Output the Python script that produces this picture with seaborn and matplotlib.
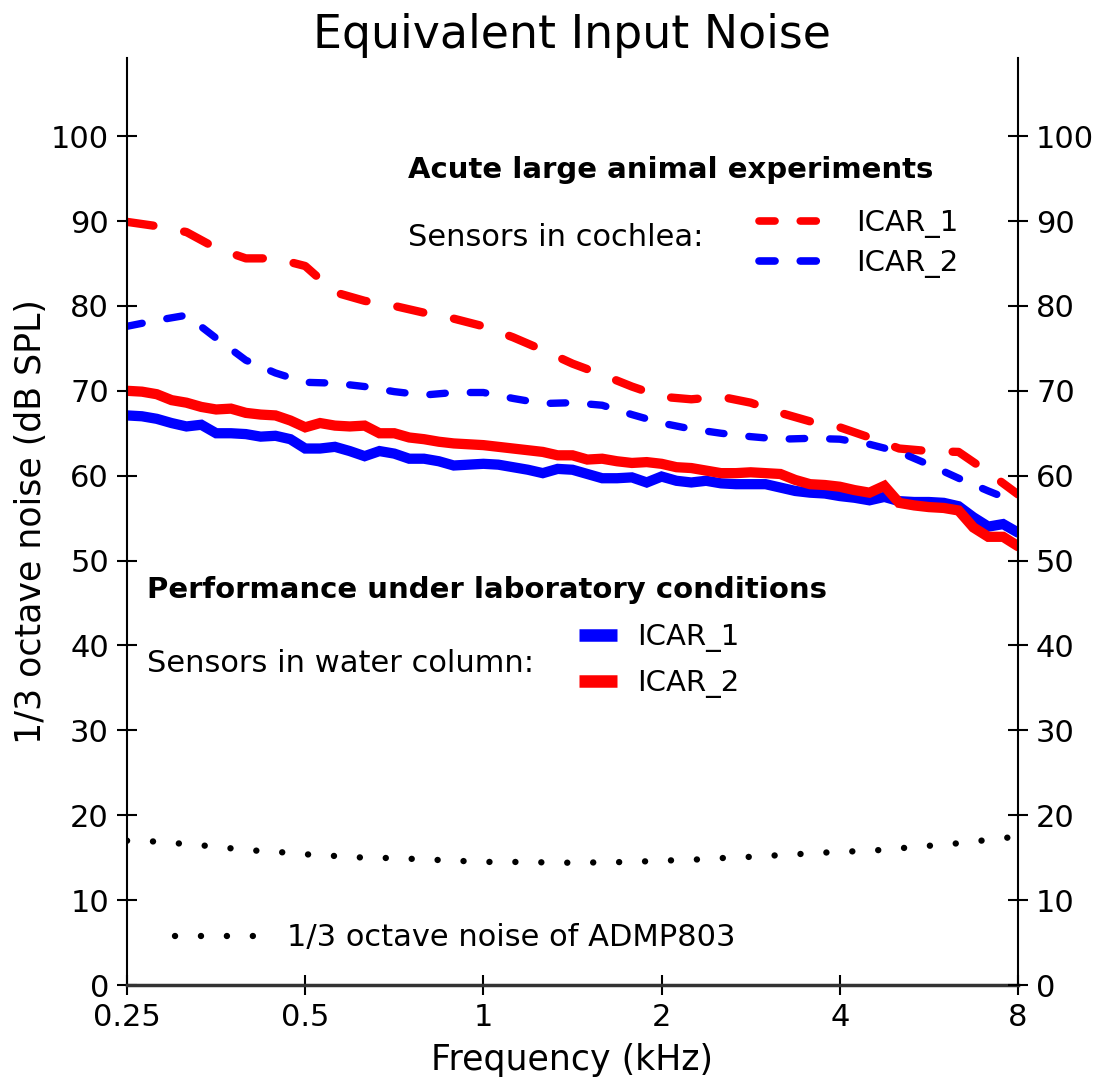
import numpy as np
import pandas as pd
import matplotlib
matplotlib.use("Agg")
import matplotlib.pyplot as plt
from matplotlib.lines import Line2D
import seaborn as sns

# 1/12 octave frequency grid (kHz)
freq = [0.25, 0.2649, 0.2806, 0.2973, 0.315, 0.3337, 0.3536, 0.3746, 0.3969, 0.4204,
        0.4454, 0.4719, 0.5, 0.5297, 0.5612, 0.5946, 0.63, 0.6674, 0.7071, 0.7492,
        0.7937, 0.8409, 0.8909, 0.9439, 1.0, 1.0595, 1.1225, 1.1892, 1.2599, 1.3348,
        1.4142, 1.4983, 1.5874, 1.6818, 1.7818, 1.8877, 2.0, 2.1189, 2.2449, 2.3784,
        2.5198, 2.6697, 2.8284, 2.9966, 3.1748, 3.3636, 3.5636, 3.7755, 4.0, 4.2379,
        4.4898, 4.7568, 5.0397, 5.3394, 5.6569, 5.9932, 6.3496, 6.7272, 7.1272, 7.551, 8.0]
freq_sixth = freq[::2]

# sensors in water column (1/12 octave)
water_icar1 = [67.1, 67.0, 66.7, 66.2, 65.8, 66.0, 65.0, 65.0, 64.9, 64.6,
               64.7, 64.3, 63.2, 63.2, 63.4, 62.9, 62.3, 62.9, 62.6, 62.0,
               62.0, 61.7, 61.2, 61.3, 61.4, 61.3, 61.0, 60.7, 60.3, 60.8,
               60.7, 60.2, 59.7, 59.7, 59.8, 59.2, 59.9, 59.4, 59.2, 59.4,
               59.1, 59.0, 59.0, 59.0, 58.6, 58.2, 58.0, 57.9, 57.6, 57.4,
               57.1, 57.5, 57.0, 56.9, 56.9, 56.8, 56.4, 55.1, 54.0, 54.3, 53.3]
water_icar2 = [70.0, 69.9, 69.6, 68.9, 68.6, 68.1, 67.8, 67.9, 67.4, 67.2,
               67.1, 66.5, 65.7, 66.2, 65.9, 65.8, 65.9, 65.0, 65.0, 64.5,
               64.3, 64.0, 63.8, 63.7, 63.6, 63.4, 63.2, 63.0, 62.8, 62.4,
               62.4, 61.9, 62.0, 61.7, 61.5, 61.6, 61.4, 61.0, 60.9, 60.6,
               60.3, 60.3, 60.4, 60.3, 60.2, 59.5, 59.0, 58.9, 58.7, 58.3,
               58.0, 58.8, 56.8, 56.5, 56.3, 56.2, 55.9, 53.9, 52.8, 52.8, 51.7]

# sensors in cochlea (1/6 octave)
cochlea_icar1 = [89.9, 89.4, 88.7, 86.8, 85.6, 85.6, 84.7, 81.6, 80.6, 80.0,
                 79.2, 78.5, 77.6, 76.3, 74.8, 73.2, 71.9, 70.5, 69.3, 69.0,
                 69.3, 68.6, 67.4, 66.4, 65.7, 64.5, 63.2, 62.9, 62.8, 60.4, 57.8]
cochlea_icar2 = [77.6, 78.3, 78.9, 76.2, 73.6, 72.1, 71.0, 70.9, 70.5, 69.9,
                 69.5, 69.8, 69.8, 69.1, 68.5, 68.6, 68.3, 67.2, 66.2, 65.5,
                 65.0, 64.6, 64.3, 64.4, 64.3, 63.7, 62.8, 61.3, 59.7, 58.2, 56.8]

# ADMP803 1/3 octave noise
admp803 = [17.0, 16.9, 16.6, 16.3, 15.9, 15.7, 15.4, 15.2, 15.0, 14.95,
           14.8, 14.65, 14.5, 14.5, 14.45, 14.4, 14.45, 14.5, 14.65, 14.75,
           14.95, 15.1, 15.3, 15.5, 15.7, 15.8, 16.1, 16.4, 16.7, 17.1, 17.5]

xticks = [0.25, 0.5, 1, 2, 4, 8]
xtick_labels = ["0.25", "0.5", "1", "2", "4", "8"]
yticks = [0, 10, 20, 30, 40, 50, 60, 70, 80, 90, 100]

RED = "#ff0000"
BLUE = "#0000ff"

sns.set_style("ticks")
plt.rcParams["font.family"] = ["DejaVu Sans"]
for key in ["text.color", "axes.labelcolor", "xtick.color", "ytick.color", "axes.edgecolor"]:
    plt.rcParams[key] = "black"

fig = plt.figure(figsize=(10.98, 10.81), dpi=100)
ax = fig.add_axes([0.1157, 0.0888, 0.8114, 0.8575])

water = pd.DataFrame({"freq": freq, "icar1": water_icar1, "icar2": water_icar2})
coch = pd.DataFrame({"freq": freq_sixth, "icar1": cochlea_icar1,
                     "icar2": cochlea_icar2, "admp": admp803})

sns.lineplot(data=coch, x="freq", y="icar1", ax=ax, color=RED, lw=6.0,
             linestyle=(0, (3.2, 3.75)), dash_capstyle="round")
sns.lineplot(data=coch, x="freq", y="icar2", ax=ax, color=BLUE, lw=5.3,
             linestyle=(0, (2.1, 3.4)), dash_capstyle="round")
sns.lineplot(data=water, x="freq", y="icar1", ax=ax, color=BLUE, lw=7.4,
             solid_joinstyle="miter")
sns.lineplot(data=water, x="freq", y="icar2", ax=ax, color=RED, lw=7.4,
             solid_joinstyle="miter")
sns.lineplot(data=coch, x="freq", y="admp", ax=ax, color="black", lw=4.6,
             linestyle=(0, (0.01, 4.05)), dash_capstyle="round")

ax.set_xscale("log", base=2)
ax.set_xlim(0.25, 8)
ax.set_ylim(0, 109.2)
ax.set_xticks(xticks)
ax.set_xticklabels(xtick_labels)
ax.minorticks_off()
ax.set_yticks(yticks)
ax.set_xlabel("Frequency (kHz)", fontsize=25, labelpad=8)
ax.set_ylabel("1/3 octave noise (dB SPL)", fontsize=25, labelpad=2)
ax.tick_params(axis="both", direction="inout", length=14, width=1.5, labelsize=22, pad=6)
ax.spines["top"].set_visible(False)
ax.spines["right"].set_visible(False)
ax.spines["left"].set_linewidth(1.5)
ax.spines["bottom"].set_linewidth(2.5)
ax.spines["bottom"].set_color("#333333")

ax2 = ax.twinx()
ax2.set_ylim(0, 109.2)
ax2.set_yticks(yticks)
ax2.tick_params(axis="y", direction="inout", length=14, width=1.5, labelsize=22, pad=6)
ax2.spines["top"].set_visible(False)
ax2.spines["left"].set_visible(False)
ax2.spines["bottom"].set_visible(False)
ax2.spines["right"].set_linewidth(1.5)

ax.set_title("Equivalent Input Noise", fontsize=33, pad=4)

# annotations
ax.text(0.315, 0.879, "Acute large animal experiments", transform=ax.transAxes,
        fontsize=21, fontweight="bold", va="center", ha="left")
ax.text(0.315, 0.806, "Sensors in cochlea:", transform=ax.transAxes,
        fontsize=22, va="center", ha="left")
ax.text(0.0224, 0.426, "Performance under laboratory conditions", transform=ax.transAxes,
        fontsize=21, fontweight="bold", va="center", ha="left")
ax.text(0.0224, 0.347, "Sensors in water column:", transform=ax.transAxes,
        fontsize=22, va="center", ha="left")

# legend handles
coch_h = [Line2D([], [], color=RED, lw=5.5, linestyle=(0, (2.1, 3.3)), dash_capstyle="round"),
          Line2D([], [], color=BLUE, lw=5.5, linestyle=(0, (2.1, 3.3)), dash_capstyle="round")]
water_h = [Line2D([], [], color=BLUE, lw=9, solid_capstyle="butt"),
           Line2D([], [], color=RED, lw=9, solid_capstyle="butt")]
admp_h = [Line2D([], [], color="black", lw=4.6, linestyle=(0, (0.01, 4.05)),
                 dash_capstyle="round")]

leg1 = ax.legend(handles=coch_h, labels=["ICAR_1", "ICAR_2"],
                 loc="center left", bbox_to_anchor=(0.709, 0.800), frameon=False,
                 fontsize=21, handlelength=2.0, handletextpad=1.35, labelspacing=0.37,
                 borderpad=0, borderaxespad=0)
ax.add_artist(leg1)
leg2 = ax.legend(handles=water_h, labels=["ICAR_1", "ICAR_2"],
                 loc="center left", bbox_to_anchor=(0.507, 0.350), frameon=False,
                 fontsize=21, handlelength=1.3, handletextpad=0.7, labelspacing=0.6,
                 borderpad=0, borderaxespad=0)
ax.add_artist(leg2)
leg3 = ax.legend(handles=admp_h, labels=["1/3 octave noise of ADMP803"],
                 loc="center left", bbox_to_anchor=(0.054, 0.051), frameon=False,
                 fontsize=22, handlelength=2.6, handletextpad=1.05,
                 borderpad=0, borderaxespad=0)

fig.savefig("out.png", dpi=100)
